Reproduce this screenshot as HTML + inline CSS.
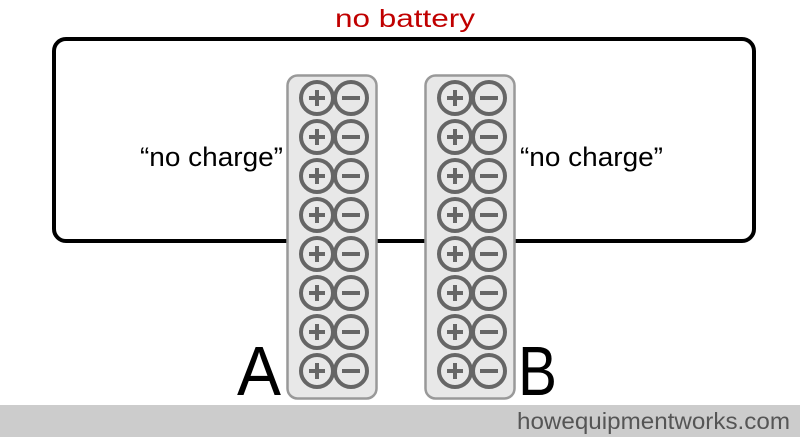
<!DOCTYPE html>
<html><head><meta charset="utf-8"><style>
html,body{margin:0;padding:0;background:#fff;}
svg{display:block;}
text{font-family:"Liberation Sans",sans-serif;}
</style></head><body>
<svg width="800" height="437" viewBox="0 0 800 437" xmlns="http://www.w3.org/2000/svg">
<rect x="0" y="0" width="800" height="437" fill="#fff"/>
<rect x="54" y="39" width="700" height="202" rx="12" fill="none" stroke="#000" stroke-width="4"/>
<text x="405" y="27" font-size="25" fill="#c00000" text-anchor="middle" textLength="140" lengthAdjust="spacingAndGlyphs">no battery</text>
<text x="140" y="166" font-size="27" fill="#000" textLength="143" lengthAdjust="spacingAndGlyphs">“no charge”</text>
<text x="520" y="166" font-size="27" fill="#000" textLength="143" lengthAdjust="spacingAndGlyphs">“no charge”</text>
<rect x="287.5" y="75.5" width="89" height="323" rx="10" fill="#e8e8e8" stroke="#999" stroke-width="2.5"/>
<rect x="425.5" y="75.5" width="89" height="323" rx="10" fill="#e8e8e8" stroke="#999" stroke-width="2.5"/>
<g stroke="#666" stroke-width="4" fill="none">
<g id="cells"></g>
</g>
<text x="237" y="395" font-size="70" fill="#000" textLength="44" lengthAdjust="spacingAndGlyphs">A</text>
<text x="518" y="395" font-size="70" fill="#000" textLength="39" lengthAdjust="spacingAndGlyphs">B</text>
<rect x="0" y="405" width="800" height="32" fill="#cccccc"/>
<text x="790" y="429" font-size="23" fill="#555" text-anchor="end" textLength="273" lengthAdjust="spacingAndGlyphs">howequipmentworks.com</text>
</svg>
<script>
var g=document.getElementById('cells');var s='';
[317,455].forEach(function(px){for(var i=0;i<8;i++){var cy=98+39*i;var mx=px+34;
s+='<circle cx="'+px+'" cy="'+cy+'" r="16"/><circle cx="'+mx+'" cy="'+cy+'" r="16"/>';
s+='<line x1="'+(px-8)+'" y1="'+cy+'" x2="'+(px+8)+'" y2="'+cy+'" stroke-width="4"/>';
s+='<line x1="'+px+'" y1="'+(cy-8)+'" x2="'+px+'" y2="'+(cy+8)+'" stroke-width="4"/>';
s+='<line x1="'+(mx-9)+'" y1="'+cy+'" x2="'+(mx+9)+'" y2="'+cy+'" stroke-width="4"/>';}});
g.innerHTML=s;
</script>
</body></html>
